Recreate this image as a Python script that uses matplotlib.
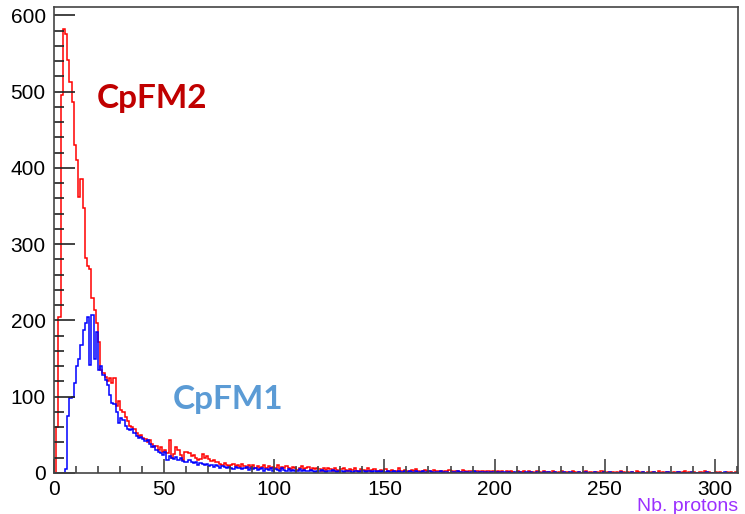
#!/usr/bin/env python3
# -*- coding: utf-8 -*-

import matplotlib
matplotlib.use('Agg')
import matplotlib.pyplot as plt
from matplotlib.ticker import MultipleLocator
import numpy as np


# bin edges: 1 proton per bin, 0 .. 310
bin_edges = list(range(0, 311))

# CpFM2 counts per bin (red)
cpfm2 = [
    0, 60, 205, 495, 582, 575, 542, 512, 487, 430, 411, 362, 386, 348, 282, 272, 268, 230, 214, 196,
    172, 135, 131, 126, 120, 125, 118, 124, 88, 95, 82, 80, 74, 68, 62, 60, 58, 52, 48, 50,
    46, 44, 40, 43, 38, 34, 36, 30, 34, 28, 30, 26, 43, 20, 25, 34, 30, 24, 17, 28,
    28, 26, 22, 24, 20, 17, 18, 25, 20, 22, 18, 16, 17, 14, 15, 12, 10, 13, 11, 9,
    10, 12, 9, 11, 8, 12, 9, 7, 10, 8, 11, 7, 9, 6, 8, 10, 7, 9, 6, 8,
    7, 10, 5, 8, 6, 9, 7, 5, 8, 6, 4, 7, 9, 5, 6, 8, 4, 6, 5, 7,
    5, 3, 6, 4, 7, 5, 3, 6, 4, 2, 5, 7, 4, 3, 5, 4, 6, 3, 2, 5,
    4, 3, 6, 2, 4, 5, 3, 2, 4, 3, 5, 2, 3, 4, 2, 3, 6, 3, 2, 4,
    3, 2, 4, 3, 5, 2, 1, 3, 4, 2, 3, 1, 4, 2, 3, 2, 1, 3, 2, 4,
    2, 1, 3, 2, 1, 4, 2, 1, 3, 2, 1, 2, 3, 1, 2, 1, 3, 2, 1, 2,
    1, 3, 1, 2, 0, 2, 1, 3, 1, 0, 2, 1, 1, 2, 0, 3, 1, 1, 0, 2,
    1, 0, 2, 1, 1, 0, 3, 1, 0, 1, 2, 0, 1, 1, 0, 2, 1, 0, 1, 0,
    1, 2, 0, 1, 0, 1, 1, 0, 2, 1, 0, 1, 0, 1, 0, 1, 0, 2, 1, 0,
    1, 0, 1, 0, 2, 1, 0, 1, 0, 1, 0, 1, 1, 0, 2, 0, 1, 0, 1, 0,
    0, 1, 0, 1, 0, 1, 2, 0, 1, 0, 1, 0, 0, 1, 0, 2, 0, 1, 0, 0,
    1, 0, 1, 0, 0, 1, 0, 1, 0, 1,
]

# CpFM1 counts per bin (blue)
cpfm1 = [
    0, 0, 0, 0, 0, 5, 75, 98, 100, 118, 140, 150, 168, 188, 196, 205, 142, 207, 150, 185,
    135, 140, 128, 122, 115, 102, 92, 90, 80, 66, 72, 70, 62, 58, 56, 58, 52, 48, 46, 47,
    44, 42, 43, 38, 34, 36, 30, 28, 26, 24, 28, 17, 22, 20, 18, 21, 17, 19, 16, 15,
    15, 17, 14, 13, 15, 11, 13, 12, 10, 12, 9, 11, 8, 10, 9, 7, 9, 8, 6, 8,
    7, 5, 8, 6, 7, 5, 6, 8, 4, 6, 5, 7, 4, 5, 6, 3, 5, 4, 6, 3,
    5, 4, 3, 6, 4, 2, 5, 3, 4, 2, 3, 5, 2, 4, 3, 2, 4, 3, 1, 3,
    2, 4, 3, 1, 3, 2, 4, 2, 1, 3, 2, 1, 3, 2, 2, 1, 3, 2, 1, 2,
    3, 1, 2, 2, 1, 3, 1, 2, 1, 2, 1, 3, 1, 1, 2, 1, 2, 1, 1, 2,
    1, 2, 1, 0, 2, 1, 1, 2, 0, 1, 2, 1, 0, 1, 1, 2, 0, 1, 1, 0,
    1, 1, 0, 2, 1, 0, 1, 1, 0, 1, 3, 1, 0, 1, 1, 0, 1, 0, 1, 1,
    0, 1, 0, 1, 1, 0, 1, 0, 0, 1, 0, 1, 0, 0, 1, 0, 1, 0, 0, 1,
    0, 0, 1, 0, 1, 0, 0, 1, 0, 0, 0, 1, 0, 0, 1, 0, 0, 0, 1, 0,
    0, 1, 0, 0, 0, 1, 0, 0, 0, 1, 0, 0, 1, 0, 0, 0, 0, 1, 0, 0,
    0, 0, 1, 0, 0, 0, 0, 1, 0, 0, 0, 0, 1, 0, 0, 0, 0, 0, 1, 0,
    0, 0, 0, 1, 0, 0, 0, 0, 0, 1, 0, 0, 0, 0, 0, 0, 1, 0, 0, 0,
    0, 0, 0, 0, 1, 0, 0, 0, 0, 0,
]

x_ticks = [0, 50, 100, 150, 200, 250, 300]
y_ticks = [0, 100, 200, 300, 400, 500, 600]


def main():
    plt.rcParams['font.family'] = ['Liberation Sans', 'DejaVu Sans']

    fig = plt.figure(figsize=(7.45, 5.14), dpi=100)
    ax = fig.add_axes([0.0725, 0.0798, 0.9181, 0.9066])

    # ROOT style step histograms
    ax.stairs(cpfm2, bin_edges, color='#ff0000', linewidth=1.1)
    ax.stairs(cpfm1, bin_edges, color='#0000ff', linewidth=1.1)

    ax.set_xlim(0, 310.5)
    ax.set_ylim(0, 611)

    # ticks inside, only left / bottom
    ax.set_xticks(x_ticks)
    ax.set_yticks(y_ticks)
    ax.xaxis.set_minor_locator(MultipleLocator(10))
    ax.yaxis.set_minor_locator(MultipleLocator(20))
    ax.tick_params(axis='x', which='major', direction='in', length=10, width=1.2,
                   labelsize=15, pad=5, color='#444444')
    ax.tick_params(axis='x', which='minor', direction='in', length=5, width=1.2, color='#444444')
    ax.tick_params(axis='y', which='major', direction='in', length=15, width=1.2,
                   labelsize=15, pad=6, color='#222222')
    ax.tick_params(axis='y', which='minor', direction='in', length=7.5, width=1.2, color='#222222')
    for spine in ax.spines.values():
        spine.set_color('#444444')
        spine.set_linewidth(1.2)

    # axis title in ROOT place (bottom right)
    ax.text(1.0, -0.072, 'Nb. protons', transform=ax.transAxes, ha='right', va='center',
            fontsize=14, color='#9b30ff')

    # labels of the two detectors
    ax.text(0.063, 0.803, 'CpFM2', transform=ax.transAxes, ha='left', va='center',
            fontsize=24, fontweight='bold', color='#c00000', family=['Lato', 'DejaVu Sans'])
    ax.text(0.173, 0.157, 'CpFM1', transform=ax.transAxes, ha='left', va='center',
            fontsize=24, fontweight='bold', color='#5b9bd5', family=['Lato', 'DejaVu Sans'])

    fig.savefig('out.png', dpi=100)


if __name__ == '__main__':
    main()
